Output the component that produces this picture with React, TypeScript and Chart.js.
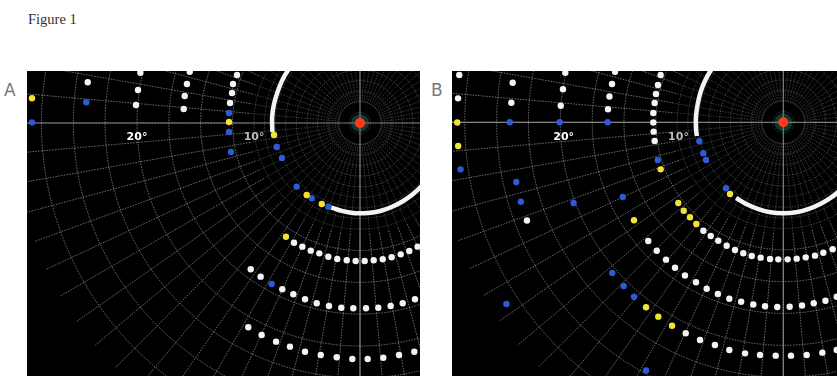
import React, { useEffect, useRef } from "react";
import { Chart, registerables } from "chart.js";

Chart.register(...registerables);

type Pt = [number, number];

// ---------- scale (pixels per visual-field degree) ----------
const PX_PER_DEG = 11.15;

// ---------- grid (degrees) ----------
const innerRings = [0.95, 1.9, 2.86, 3.81, 4.76, 5.71, 6.67, 7.62, 8.57, 9.52];
const outerRings = [11.43, 14.29, 17.14, 20.0, 22.86, 25.71, 28.57];
const SPOKE_STEP_DEG = 5;
const SPOKE_OUTER_LIMIT = 31;
const ringLabelText = ["10°", "20°"];
const ringLabelPosA: Pt[] = [[-9.5, -1.25], [-20.0, -1.3]];
const ringLabelPosB: Pt[] = [[-9.4, -1.3], [-19.7, -1.36]];

// ---------- Panel A data (x, y in degrees from fixation) ----------
const whiteA: Pt[] = [
  [-24.42, 3.65], [-19.7, 4.51], [-19.91, 2.96], [-20.09, 1.61],
  [-15.27, 4.6], [-15.52, 3.5], [-15.72, 2.42], [-15.81, 1.26],
  [-11.03, 4.3], [-11.39, 3.5], [-11.48, 2.69], [-11.66, 1.79],
];
const blueA: Pt[] = [
  [-29.42, 0.06], [-24.55, 1.86], [-11.75, 0.9], [-11.75, -0.81], [-11.57, -2.6],
  [-7.47, -2.15], [-7.0, -3.14], [-5.68, -5.71], [-4.33, -6.75], [-2.84, -7.51],
  [-7.92, -14.44],
];
const yellowA: Pt[] = [
  [-29.42, 2.22], [-11.75, 0.09], [-7.71, -1.08], [-4.78, -6.46], [-3.43, -7.26],
  [-6.64, -10.2],
];
const isopter12A: Pt[] = [
  [-5.92, -10.74], [-5.17, -11.09], [-4.42, -11.45], [-3.65, -11.69], [-2.84, -11.99],
  [-2.04, -12.2], [-1.19, -12.31], [-0.39, -12.38], [0.42, -12.38], [1.23, -12.31],
  [2.04, -12.22], [2.84, -12.04], [3.65, -11.78], [4.42, -11.48], [5.17, -11.09],
];
const isopter16A: Pt[] = [
  [-9.8, -13.12], [-8.91, -13.78], [-6.97, -14.91], [-5.98, -15.36], [-4.93, -15.81],
  [-3.88, -16.17], [-2.78, -16.41], [-1.68, -16.57], [-0.6, -16.62], [0.54, -16.62],
  [1.64, -16.57], [2.75, -16.41], [3.83, -16.17], [4.93, -15.81],
];
const isopter21A: Pt[] = [
  [-10.02, -18.32], [-8.82, -19.01], [-7.53, -19.61], [-6.28, -20.06], [-4.93, -20.51],
  [-3.52, -20.81], [-2.09, -21.01], [-0.69, -21.17], [0.69, -21.17], [2.09, -21.05],
  [3.5, -20.81], [4.87, -20.51],
];
// dense inner isopter (polar: angle in degrees, eccentricity in degrees)
const innerArcA1Angles = [136, 144, 152, 160, 168, 176, 186];
const innerArcA1Ecc = [8.0, 8.0, 7.95, 7.9, 7.9, 7.9, 7.9];
const innerArcA2Angles = [251, 259, 267, 275, 283, 291, 299, 307, 315, 323];
const innerArcA2Ecc = [8.0, 8.05, 8.1, 8.1, 8.1, 8.05, 8.0, 7.95, 7.9, 7.9];

// ---------- Panel B data ----------
const whiteB: Pt[] = [
  [-29.06, 4.24], [-29.17, 2.15], [-24.27, 3.55], [-24.39, 1.76],
  [-19.55, 4.45], [-19.76, 2.96], [-19.96, 1.48],
  [-15.09, 4.54], [-15.36, 3.43], [-15.59, 2.31], [-15.72, 1.17],
  [-11.0, 4.24], [-11.24, 3.35], [-11.42, 2.54], [-11.54, 1.73], [-11.66, 0.83],
  [-11.66, -0.02], [-11.63, -0.84], [-11.54, -1.68],
  [-22.99, -8.81],
];
const blueB: Pt[] = [
  [-28.95, -4.22], [-24.53, 0.0], [-20.06, 0.0], [-15.76, 0.0],
  [-23.95, -5.35], [-23.54, -7.12], [-18.81, -7.24], [-14.4, -6.7], [-11.26, -3.38],
  [-7.53, -1.7], [-7.17, -2.78], [-6.93, -3.38], [-5.14, -5.92],
  [-15.34, -13.52], [-14.32, -14.68], [-13.39, -15.64], [-24.83, -16.3], [-12.31, -22.26],
];
const yellowB: Pt[] = [
  [-29.24, -0.02], [-29.16, -2.13], [-11.0, -4.22], [-13.39, -8.79], [-4.78, -6.43],
  [-9.42, -7.24], [-8.93, -7.93], [-8.37, -8.52], [-7.8, -9.12],
  [-12.31, -16.59], [-11.21, -17.43], [-9.98, -18.24],
];
const isopter12B: Pt[] = [
  [-7.17, -9.72], [-6.51, -10.2], [-5.83, -10.62], [-5.08, -11.07], [-4.33, -11.45],
  [-3.59, -11.75], [-2.83, -11.99], [-2.03, -12.14], [-1.19, -12.26], [-0.45, -12.29],
  [0.39, -12.29], [1.2, -12.23], [2.01, -12.11], [2.84, -11.96], [3.59, -11.7],
  [4.43, -11.39],
];
const isopter16B: Pt[] = [
  [-12.11, -10.65], [-11.35, -11.52], [-10.52, -12.32], [-9.71, -13.05], [-8.82, -13.74],
  [-7.83, -14.34], [-6.87, -14.93], [-5.87, -15.4], [-4.84, -15.83], [-3.78, -16.1],
  [-2.69, -16.34], [-1.64, -16.5], [-0.54, -16.57], [0.57, -16.54], [1.68, -16.43],
  [2.73, -16.23], [3.78, -16.01], [4.79, -15.64],
];
const isopter21B: Pt[] = [
  [-8.75, -18.92], [-7.47, -19.52], [-6.13, -19.97], [-4.84, -20.42], [-3.43, -20.72],
  [-2.09, -20.87], [-0.68, -20.93], [0.69, -20.93], [2.1, -20.87], [3.5, -20.66],
  [4.79, -20.42],
];
const innerArcB1Angles = [136, 144, 152, 160, 168, 176, 184, 189];
const innerArcB1Ecc = [8.0, 8.0, 7.95, 7.9, 7.85, 7.85, 7.85, 7.85];
const innerArcB2Angles = [238, 246, 254, 262, 270, 278, 286, 294, 302, 310, 318];
const innerArcB2Ecc = [8.0, 8.05, 8.1, 8.15, 8.15, 8.15, 8.1, 8.05, 8.0, 7.95, 7.9];

const fixation: Pt[] = [[0, 0]];

// ---------- colours ----------
const WHITE = "#f4f4f4";
const BLUE = "#2c5ad8";
const YELLOW = "#f3e232";
const RED = "#ff3b1c";

const toXY = (angles: number[], ecc: number[]) =>
  angles.map((a, i) => ({
    x: ecc[i] * Math.cos((a * Math.PI) / 180),
    y: ecc[i] * Math.sin((a * Math.PI) / 180),
  }));
const pts = (arr: Pt[]) => arr.map(([x, y]) => ({ x, y }));

const polarGrid = {
  id: "polarGrid",
  beforeDatasetsDraw(chart: any, _args: any, opts: any) {
    const { ctx, chartArea: a, scales } = chart;
    const xs = scales.x;
    const ys = scales.y;
    const cx = xs.getPixelForValue(0);
    const cy = ys.getPixelForValue(0);
    const k = xs.getPixelForValue(1) - cx;
    ctx.save();
    ctx.beginPath();
    ctx.rect(a.left, a.top, a.right - a.left, a.bottom - a.top);
    ctx.clip();
    ctx.fillStyle = "#000";
    ctx.fillRect(a.left, a.top, a.right - a.left, a.bottom - a.top);

    ctx.lineWidth = 1;
    ctx.setLineDash([1.6, 1.2]);
    // inner rings and spokes
    ctx.strokeStyle = "rgba(170,170,170,0.32)";
    for (const r of innerRings) {
      ctx.beginPath();
      ctx.arc(cx, cy, r * k, 0, Math.PI * 2);
      ctx.stroke();
    }
    for (let ang = 0; ang < 360; ang += SPOKE_STEP_DEG) {
      const t = (ang * Math.PI) / 180;
      ctx.beginPath();
      ctx.moveTo(cx + 1.9 * k * Math.cos(t), cy - 1.9 * k * Math.sin(t));
      ctx.lineTo(cx + 10 * k * Math.cos(t), cy - 10 * k * Math.sin(t));
      ctx.stroke();
    }
    // outer rings and spokes
    ctx.strokeStyle = "rgba(190,190,190,0.55)";
    for (const r of outerRings) {
      ctx.beginPath();
      ctx.arc(cx, cy, r * k, 0, Math.PI * 2);
      ctx.stroke();
    }
    for (let ang = 0; ang < 360; ang += SPOKE_STEP_DEG) {
      const t = (ang * Math.PI) / 180;
      ctx.beginPath();
      ctx.moveTo(cx + 10 * k * Math.cos(t), cy - 10 * k * Math.sin(t));
      ctx.lineTo(cx + SPOKE_OUTER_LIMIT * k * Math.cos(t), cy - SPOKE_OUTER_LIMIT * k * Math.sin(t));
      ctx.stroke();
    }
    // meridians
    ctx.setLineDash([]);
    ctx.strokeStyle = "rgba(160,160,160,0.75)";
    ctx.lineWidth = 1.2;
    ctx.beginPath();
    ctx.moveTo(a.left, cy);
    ctx.lineTo(a.right, cy);
    ctx.moveTo(cx, a.top);
    ctx.lineTo(cx, a.bottom);
    ctx.stroke();
    // fixation halo
    ctx.fillStyle = "rgba(60,150,140,0.35)";
    ctx.beginPath();
    ctx.arc(cx, cy, 9, 0, Math.PI * 2);
    ctx.fill();

    // ring labels
    ctx.font = "bold 11px 'DejaVu Sans', sans-serif";
    ctx.textAlign = "center";
    ctx.textBaseline = "middle";
    const labelPos: Pt[] = opts.labelPos;
    ringLabelText.forEach((t, i) => {
      const [lx, ly] = labelPos[i];
      ctx.fillStyle = i === 0 ? "#b9b9b9" : "#ffffff";
      ctx.fillText(t, xs.getPixelForValue(lx), ys.getPixelForValue(ly));
    });
    ctx.restore();
  },
};

type PanelData = {
  left: number;
  top: number;
  w: number;
  h: number;
  cx: number;
  cy: number;
  white: Pt[];
  blue: Pt[];
  yellow: Pt[];
  iso12: Pt[];
  iso16: Pt[];
  iso21: Pt[];
  arc1Angles: number[];
  arc1Ecc: number[];
  arc2Angles: number[];
  arc2Ecc: number[];
  labelPos: Pt[];
};

const panelA: PanelData = {
  left: 27, top: 71, w: 393, h: 305, cx: 333, cy: 52,
  white: whiteA, blue: blueA, yellow: yellowA,
  iso12: isopter12A, iso16: isopter16A, iso21: isopter21A,
  arc1Angles: innerArcA1Angles, arc1Ecc: innerArcA1Ecc,
  arc2Angles: innerArcA2Angles, arc2Ecc: innerArcA2Ecc,
  labelPos: ringLabelPosA,
};
const panelB: PanelData = {
  left: 452, top: 71, w: 385, h: 305, cx: 331.3, cy: 51.3,
  white: whiteB, blue: blueB, yellow: yellowB,
  iso12: isopter12B, iso16: isopter16B, iso21: isopter21B,
  arc1Angles: innerArcB1Angles, arc1Ecc: innerArcB1Ecc,
  arc2Angles: innerArcB2Angles, arc2Ecc: innerArcB2Ecc,
  labelPos: ringLabelPosB,
};

function Panel({ d }: { d: PanelData }) {
  const ref = useRef<HTMLCanvasElement>(null);
  useEffect(() => {
    const canvas = ref.current;
    if (!canvas) return;
    const xMin = -d.cx / PX_PER_DEG;
    const xMax = (d.w - d.cx) / PX_PER_DEG;
    const yMax = d.cy / PX_PER_DEG;
    const yMin = -(d.h - d.cy) / PX_PER_DEG;
    const dot = (data: Pt[], color: string, r = 3.2) => ({
      data: pts(data),
      pointRadius: r,
      pointBackgroundColor: color,
      pointBorderWidth: 0,
      pointBorderColor: color,
      showLine: false,
    });
    const arc = (angles: number[], ecc: number[]) => ({
      data: toXY(angles, ecc),
      showLine: true,
      tension: 0.4,
      borderColor: WHITE,
      borderWidth: 4.5,
      pointRadius: 0,
      fill: false,
    });
    const chart = new Chart(canvas, {
      type: "scatter",
      data: {
        datasets: [
          dot(fixation, RED, 5) as any,
          dot(d.yellow, YELLOW),
          dot(d.blue, BLUE),
          dot(d.white, WHITE),
          dot(d.iso12, WHITE),
          dot(d.iso16, WHITE),
          dot(d.iso21, WHITE),
          arc(d.arc1Angles, d.arc1Ecc),
          arc(d.arc2Angles, d.arc2Ecc),
        ],
      },
      options: {
        animation: false,
        responsive: false,
        devicePixelRatio: 1,
        events: [],
        layout: { padding: 0, autoPadding: false },
        elements: { line: { capBezierPoints: false } },
        scales: {
          x: { type: "linear", min: xMin, max: xMax, display: false },
          y: { type: "linear", min: yMin, max: yMax, display: false },
        },
        plugins: {
          legend: { display: false },
          tooltip: { enabled: false },
          polarGrid: { labelPos: d.labelPos },
        } as any,
      } as any,
      plugins: [polarGrid],
    });
    return () => chart.destroy();
  }, [d]);
  return (
    <canvas
      ref={ref}
      width={d.w}
      height={d.h}
      style={{ position: "absolute", left: d.left, top: d.top, width: d.w, height: d.h, display: "block" }}
    />
  );
}

export default function App() {
  return (
    <div
      style={{
        position: "absolute",
        left: 0,
        top: 0,
        width: 837,
        height: 376,
        background: "#fff",
        overflow: "hidden",
      }}
    >
      <div
        style={{
          position: "absolute",
          left: 28,
          top: 11,
          font: "14.5px 'Liberation Serif', serif",
          color: "#333",
          whiteSpace: "nowrap",
        }}
      >
        Figure 1
      </div>
      <div
        style={{
          position: "absolute",
          left: 4,
          top: 80,
          font: "17px 'DejaVu Sans', sans-serif",
          color: "#777",
        }}
      >
        A
      </div>
      <div
        style={{
          position: "absolute",
          left: 431,
          top: 80,
          font: "17px 'DejaVu Sans', sans-serif",
          color: "#777",
        }}
      >
        B
      </div>
      <Panel d={panelA} />
      <Panel d={panelB} />
    </div>
  );
}
